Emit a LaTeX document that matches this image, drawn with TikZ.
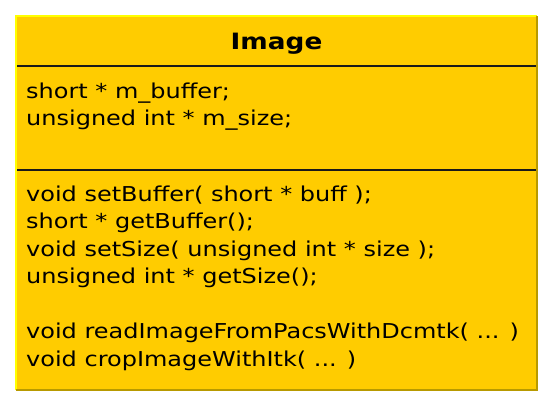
\documentclass[tikz,border=0pt]{standalone}
\usepackage{fontspec}
\setmainfont[FakeStretch=1.17]{DejaVu Sans}
\usetikzlibrary{positioning}

\definecolor{classfill}{HTML}{FFCC00}
\definecolor{classlight}{HTML}{FFFF00}
\definecolor{classdark}{HTML}{B89A00}

\begin{document}
\begin{tikzpicture}[x=1pt, y=1pt,
    compart/.style={rectangle, fill=classfill, minimum width=521pt, inner sep=0pt, outer sep=0pt},
    member/.style={anchor=base west, inner sep=0pt, font=\fontsize{20.5}{24}\selectfont},
    classname/.style={anchor=base, inner sep=0pt, font=\bfseries\fontsize{22.5}{26}\selectfont},
    divider/.style={draw=black!90, line width=1.5pt},
    lightedge/.style={draw=classlight, line width=1.5pt},
    darkedge/.style={draw=classdark, line width=2pt}]

    \useasboundingbox (0,0) rectangle (554,-408);

    % Compartments
    \node[compart, anchor=north west, minimum height=50pt] (head) at (16,-16) {};
    \node[compart, below=0pt of head, minimum height=104pt] (attrs) {};
    \node[compart, below=0pt of attrs, minimum height=220pt] (ops) {};

    % Class name
    \node[classname] (name) at (276.5,-49) {Image};

    % Attributes
    \node[member] (a1) at (26,-98) {short * m\_buffer;};
    \node[member] (a2) at (26,-125.5) {unsigned int * m\_size;};

    % Operations
    \node[member] (o1) at (26,-201) {void setBuffer( short * buff );};
    \node[member] (o2) at (26,-228.5) {short * getBuffer();};
    \node[member] (o3) at (26,-256) {void setSize( unsigned int * size );};
    \node[member] (o4) at (26,-283.5) {unsigned int * getSize();};
    \node[member] (o5) at (26,-338.5) {void readImageFromPacsWithDcmtk( ... )};
    \node[member] (o6) at (26,-366) {void cropImageWithItk( ... )};

    % Dividers and edges
    \draw[divider] (attrs.north west) -- (attrs.north east);
    \draw[divider] (ops.north west) -- (ops.north east);
    \draw[lightedge] (ops.south west) -- (head.north west) -- (head.north east);
    \draw[darkedge] (head.north east) -- (ops.south east) -- (ops.south west);
\end{tikzpicture}
\end{document}
